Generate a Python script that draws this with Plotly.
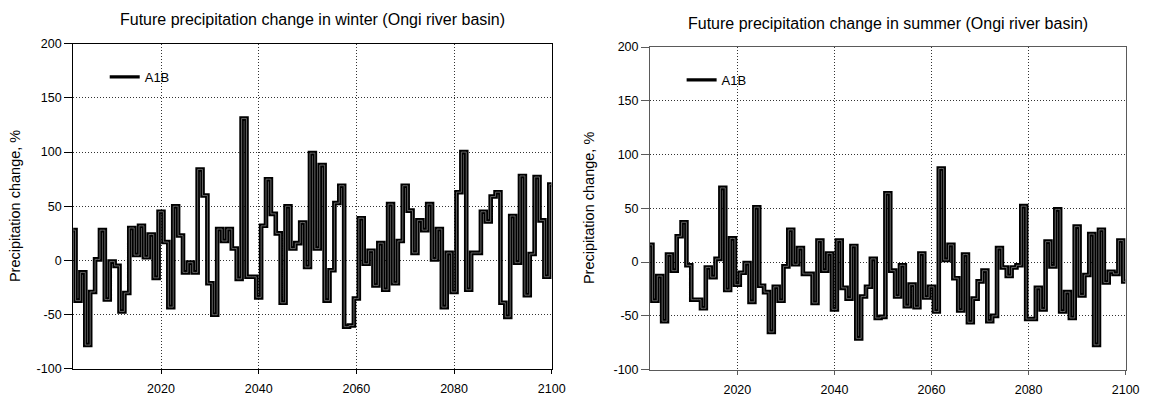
import plotly.graph_objects as go

years = list(range(2002, 2101))

winter_a1b = [28, -37, -11, -78, -29, 1, 28, -36, -1, -5,
              -47, -30, 30, 5, 32, 3, 24, -16, 45, 17,
              -43, 50, 23, -11, -2, -11, 84, 60, -21, -50,
              29, 18, 29, 11, -17, 131, -15, -15, -34, 32,
              75, 43, 25, -39, 50, 11, 16, 35, -6, 99,
              11, 88, -37, -9, 53, 69, -61, -60, -35, 39,
              -3, 9, -23, 16, -27, 52, -21, 18, 69, 46,
              7, 37, 28, 52, 1, 29, -43, 7, -29, 63,
              100, -27, 7, 7, 45, 36, 59, 63, -39, -52,
              41, -2, 78, -32, 6, 77, 37, -15, 70]

summer_a1b = [16, -36, -13, -55, 7, -8, 24, 37, -3, -35,
              -35, -43, -5, -14, 3, 69, -26, 22, -21, -10,
              -1, -37, 51, -22, -28, -65, -23, -36, -4, 30,
              -2, 13, -11, -11, -38, 20, -8, 8, -44, 20,
              -24, -34, 15, -71, -32, -23, 3, -52, -51, 64,
              -8, -32, -3, -41, -21, -42, 8, -33, -23, -46,
              87, 2, 16, -15, -45, 7, -56, -34, -18, -8,
              -55, -50, 13, -5, -13, -5, -3, 52, -53, -53,
              -24, -44, 19, -4, 49, -46, -28, -52, 33, -31,
              -12, 26, -77, 30, -19, -9, -11, 20, -18]

x_ticks = [2020, 2040, 2060, 2080, 2100]
y_ticks = [-100, -50, 0, 50, 100, 150, 200]
y_ticktext = ["-100", "-50", "0", "50", "100", "150", "200"]

titles = ["Future precipitation change in winter (Ongi river basin)",
          "Future precipitation change in summer (Ongi river basin)"]
series_name = "A1B"
y_title = "Precipitation change, %"

W, H = 1153, 401
FONT = "Liberation Sans, Arial, sans-serif"

# pixel boxes of the two plot areas (left, right, top, bottom)
boxes = [(74, 558.5, 38, 375), (658, 1139.5, 41.5, 375.7)]
axis_colors = ["#000000", "#5a5a5a"]

fig = go.Figure()

for i, (vals, box) in enumerate(zip([winter_a1b, summer_a1b], boxes)):
    xa = "x" if i == 0 else "x2"
    ya = "y" if i == 0 else "y2"
    lg = "legend" if i == 0 else "legend2"
    fig.add_trace(go.Scatter(x=years, y=vals, mode="lines", line_shape="hvh",
                             line=dict(color="#000000", width=4.6),
                             xaxis=xa, yaxis=ya, showlegend=False, hoverinfo="skip"))
    fig.add_trace(go.Scatter(x=years, y=vals, mode="lines", line_shape="hvh",
                             line=dict(color="#6e6e6e", width=0.9),
                             xaxis=xa, yaxis=ya, showlegend=False, hoverinfo="skip"))
    fig.add_trace(go.Scatter(x=[None], y=[None], mode="lines", name=series_name,
                             line=dict(color="#000000", width=3.2),
                             xaxis=xa, yaxis=ya, showlegend=True, legend=lg))

layout = dict(
    width=W, height=H,
    margin=dict(l=0, r=0, t=0, b=0),
    paper_bgcolor="white", plot_bgcolor="white",
    font=dict(family=FONT, size=12, color="#000000"),
    showlegend=True,
)

for i, box in enumerate(boxes):
    l, r, t, b = box
    sfx = "" if i == 0 else "2"
    col = axis_colors[i]
    layout["xaxis" + sfx] = dict(
        domain=[l / W, r / W], range=[2002, 2100], anchor="y" + sfx,
        tickvals=x_ticks, ticks="outside", ticklen=4, tickcolor=col,
        ticklabelstandoff=4,
        showline=True, linecolor=col, linewidth=1, mirror=True,
        showgrid=True, gridcolor="#333333", griddash="1px,2px", gridwidth=1,
        zeroline=False, tickfont=dict(size=12.5, family=FONT),
    )
    layout["yaxis" + sfx] = dict(
        domain=[(H - b) / H, (H - t) / H], range=[-100, 200], anchor="x" + sfx,
        tickvals=y_ticks, ticktext=y_ticktext, ticks="outside", ticklen=8, tickcolor=col,
        showline=True, linecolor=col, linewidth=1, mirror=True,
        showgrid=True, gridcolor="#333333", griddash="1px,2px", gridwidth=1,
        zeroline=False, tickfont=dict(size=12.5, family=FONT),
    )

layout["legend"] = dict(x=106 / W, y=1 - 57 / H, xanchor="left", yanchor="top",
                        bgcolor="rgba(0,0,0,0)", font=dict(size=13, family=FONT))
layout["legend2"] = dict(x=690 / W, y=1 - 60 / H, xanchor="left", yanchor="top",
                         bgcolor="rgba(0,0,0,0)", font=dict(size=13, family=FONT))

fig.update_layout(**layout)

ann = []
title_y = [13, 17]
label_x = [15, 597]
for i, box in enumerate(boxes):
    l, r, t, b = box
    ann.append(dict(text=titles[i], x=(l + r) / 2 / W, y=1 - title_y[i] / H,
                    xref="paper", yref="paper", xanchor="center", yanchor="middle",
                    showarrow=False, font=dict(size=16, family=FONT)))
    ann.append(dict(text=y_title, x=label_x[i] / W, y=1 - ((t + b) / 2) / H,
                    xref="paper", yref="paper", xanchor="center", yanchor="middle",
                    textangle=-90, showarrow=False, font=dict(size=14.5, family=FONT)))
fig.update_layout(annotations=ann)

fig.write_html("out.html")
